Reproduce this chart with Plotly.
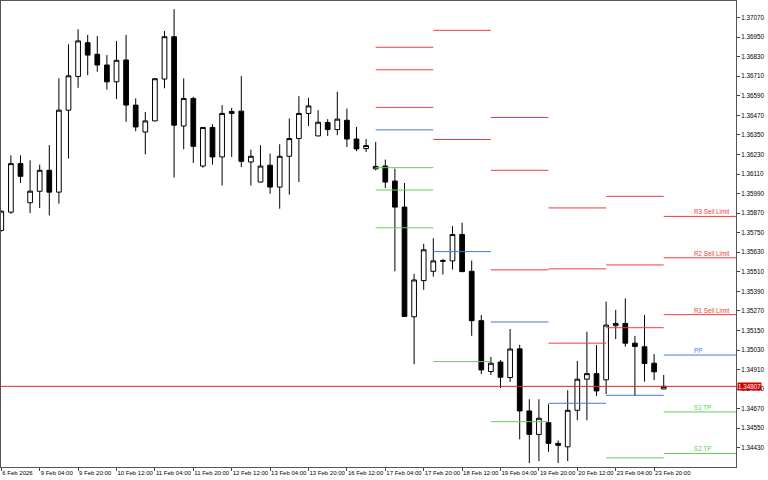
import plotly.graph_objects as go

# ---------------- data ----------------
bar_index = list(range(70))
opens = [1.35764, 1.35876, 1.36174, 1.35934, 1.36004, 1.36133, 1.35999, 1.36502, 1.36709, 1.36916,
         1.36845, 1.36779, 1.36676, 1.36810, 1.36533, 1.36368, 1.36436, 1.36693, 1.36953, 1.36405,
         1.36574, 1.36159, 1.36396, 1.36215, 1.36482, 1.36496, 1.36184, 1.36061, 1.36164, 1.36030,
         1.36219, 1.36328, 1.36482, 1.36344, 1.36426, 1.36383, 1.36440, 1.36325, 1.36266, 1.36142,
         1.36159, 1.36067, 1.35907, 1.35234, 1.35456, 1.35513, 1.35579, 1.35577, 1.35739, 1.35513,
         1.35210, 1.34898, 1.34956, 1.34861, 1.35037, 1.34656, 1.34512, 1.34584, 1.34457, 1.34436,
         1.34660, 1.34851, 1.34885, 1.34847, 1.35179, 1.35193, 1.35072, 1.35050, 1.34949, 1.34791]
highs = [1.35887, 1.36225, 1.36225, 1.36194, 1.36168, 1.36287, 1.36697, 1.36906, 1.36999, 1.36964,
         1.36957, 1.36840, 1.36927, 1.36964, 1.36574, 1.36491, 1.36699, 1.36988, 1.37122, 1.36697,
         1.36584, 1.36397, 1.36416, 1.36533, 1.36516, 1.36711, 1.36260, 1.36287, 1.36236, 1.36293,
         1.36451, 1.36588, 1.36578, 1.36502, 1.36447, 1.36615, 1.36512, 1.36399, 1.36325, 1.36307,
         1.36199, 1.36143, 1.36055, 1.35497, 1.35682, 1.35716, 1.35589, 1.35790, 1.35811, 1.35579,
         1.35245, 1.34988, 1.34968, 1.35159, 1.35062, 1.34728, 1.34728, 1.34697, 1.34475, 1.34783,
         1.34963, 1.35142, 1.35060, 1.35327, 1.35276, 1.35347, 1.35117, 1.35245, 1.35005, 1.34877]
lows = [1.35757, 1.35866, 1.36055, 1.35870, 1.35901, 1.35856, 1.35928, 1.36205, 1.36639, 1.36717,
        1.36738, 1.36629, 1.36570, 1.36430, 1.36373, 1.36231, 1.36434, 1.36636, 1.36088, 1.36262,
        1.36178, 1.36149, 1.36168, 1.36040, 1.36215, 1.36153, 1.36040, 1.36059, 1.35989, 1.35897,
        1.35983, 1.36061, 1.36405, 1.36342, 1.36344, 1.36348, 1.36276, 1.36250, 1.36245, 1.36133,
        1.36024, 1.35513, 1.35234, 1.34943, 1.35399, 1.35480, 1.35493, 1.35524, 1.35511, 1.35117,
        1.34882, 1.34877, 1.34796, 1.34834, 1.34482, 1.34336, 1.34348, 1.34405, 1.34336, 1.34348,
        1.34599, 1.34599, 1.34748, 1.34759, 1.35097, 1.35050, 1.34748, 1.34836, 1.34845, 1.34790]
closes = [1.35882, 1.36174, 1.36096, 1.36005, 1.36133, 1.35999, 1.36502, 1.36713, 1.36927, 1.36840,
          1.36779, 1.36676, 1.36808, 1.36533, 1.36399, 1.36436, 1.36695, 1.36953, 1.36410, 1.36574,
          1.36280, 1.36396, 1.36215, 1.36482, 1.36494, 1.36188, 1.36219, 1.36159, 1.36030, 1.36219,
          1.36328, 1.36482, 1.36528, 1.36428, 1.36383, 1.36447, 1.36325, 1.36264, 1.36285, 1.36157,
          1.36061, 1.35907, 1.35236, 1.35460, 1.35645, 1.35577, 1.35575, 1.35739, 1.35511, 1.35210,
          1.34908, 1.34949, 1.34863, 1.35036, 1.34656, 1.34512, 1.34611, 1.34457, 1.34445, 1.34660,
          1.34851, 1.34885, 1.34779, 1.35183, 1.35193, 1.35072, 1.35052, 1.34947, 1.34896, 1.34807]

tick_bars = [0, 4, 8, 12, 16, 20, 24, 28, 32, 36, 40, 44, 48, 52, 56, 60, 64, 68]
tick_labels = ["6 Feb 2026", "9 Feb 04:00", "9 Feb 20:00", "10 Feb 12:00", "11 Feb 04:00",
               "11 Feb 20:00", "12 Feb 12:00", "13 Feb 04:00", "13 Feb 20:00", "16 Feb 12:00",
               "17 Feb 04:00", "17 Feb 20:00", "18 Feb 12:00", "19 Feb 04:00", "19 Feb 20:00",
               "20 Feb 12:00", "23 Feb 04:00", "23 Feb 20:00"]
price_ticks = [1.34430, 1.34550, 1.34670, 1.34790, 1.34910, 1.35030, 1.35150, 1.35270, 1.35390,
               1.35510, 1.35630, 1.35750, 1.35870, 1.35990, 1.36110, 1.36230, 1.36350, 1.36470,
               1.36590, 1.36710, 1.36830, 1.36950, 1.37070]

# daily pivot levels (first bar of each day)
pivot_start_bar = [39, 45, 51, 57, 63, 69]
pivot_R3 = [1.36888, None, 1.36457, 1.35902, 1.35973, 1.35850]
pivot_R2 = [1.36750, 1.36992, 1.36133, 1.35528, 1.35552, 1.35596]
pivot_R1 = [1.36519, 1.36322, 1.35522, 1.35072, 1.35167, 1.35247]
pivot_PP = [1.36381, 1.35634, 1.35202, 1.34703, 1.34752, 1.34999]
pivot_S1 = [1.36149, 1.34959, 1.34590, None, 1.34368, 1.34650]
pivot_S2 = [1.36012, None, None, None, None, 1.34395]
pivot_S3 = [1.35780, None, None, None, None, None]
level_labels = ["R3 Sell Limit", "R2 Sell Limit", "R1 Sell Limit", "PP", "S1 TP", "S2 TP"]
current_price = 1.34807

# ---------------- style ----------------
X_MIN, X_MAX = -0.03, 76.53
Y_MIN, Y_MAX = 1.34312, 1.37172
RED = "rgb(240,60,60)"
BLUE = "rgb(70,120,225)"
GREEN = "rgb(100,205,90)"
FONT = "Liberation Sans, Arial, sans-serif"
FS = 6.3

fig = go.Figure()

fig.add_trace(go.Candlestick(
    x=bar_index, open=opens, high=highs, low=lows, close=closes,
    increasing=dict(line=dict(color="black", width=1), fillcolor="white"),
    decreasing=dict(line=dict(color="black", width=1), fillcolor="black"),
    whiskerwidth=0, showlegend=False, hoverinfo="skip"))

def segments(levels):
    xs, ys = [], []
    for k, lv in enumerate(levels):
        if lv is None:
            continue
        x0 = pivot_start_bar[k]
        x1 = pivot_start_bar[k + 1] if k + 1 < len(pivot_start_bar) else X_MAX
        xs += [x0, x1, None]
        ys += [lv, lv, None]
    return xs, ys

for levels, col in [(pivot_R3, RED), (pivot_R2, RED), (pivot_R1, RED), (pivot_PP, BLUE),
                    (pivot_S1, GREEN), (pivot_S2, GREEN), (pivot_S3, GREEN)]:
    xs, ys = segments(levels)
    fig.add_trace(go.Scatter(x=xs, y=ys, mode="lines", line=dict(color=col, width=1),
                             showlegend=False, hoverinfo="skip"))

# current price line
fig.add_trace(go.Scatter(x=[X_MIN, X_MAX], y=[current_price, current_price], mode="lines",
                         line=dict(color="rgb(225,40,40)", width=1), showlegend=False, hoverinfo="skip"))

# labels on the last day's levels
last_levels = [pivot_R3[-1], pivot_R2[-1], pivot_R1[-1], pivot_PP[-1], pivot_S1[-1], pivot_S2[-1]]
label_cols = [RED, RED, RED, BLUE, GREEN, GREEN]
for txt, lv, col in zip(level_labels, last_levels, label_cols):
    fig.add_annotation(x=71.95, y=lv, text=txt, showarrow=False, xanchor="left", yanchor="bottom",
                       yshift=-1, font=dict(family=FONT, size=FS, color=col))

fig.add_annotation(xref="paper", x=1, y=current_price, text="1.34807", showarrow=False,
                   xanchor="left", yanchor="middle", xshift=1, bgcolor="rgb(210,0,0)",
                   borderpad=0, font=dict(family=FONT, size=FS, color="white"))

fig.update_layout(
    width=768, height=480,
    margin=dict(l=1, r=32, t=1, b=13, autoexpand=False),
    paper_bgcolor="white", plot_bgcolor="white",
    font=dict(family=FONT, size=FS, color="black"),
    showlegend=False,
    xaxis=dict(range=[X_MIN, X_MAX], tickvals=tick_bars, ticktext=tick_labels, tickangle=0,
               ticks="outside", ticklen=3, tickcolor="#444", showgrid=False, zeroline=False,
               showline=True, linecolor="#555", linewidth=1, mirror=True, automargin=False,
               ticklabelposition="outside right", rangeslider=dict(visible=False),
               tickfont=dict(family=FONT, size=6.0, color="black"), fixedrange=True),
    yaxis=dict(range=[Y_MIN, Y_MAX], side="right", tickvals=price_ticks, tickformat=".5f",
               ticks="outside", ticklen=3, tickcolor="#444", showgrid=False, zeroline=False,
               showline=True, linecolor="#555", linewidth=1, mirror=True, automargin=False,
               tickfont=dict(family=FONT, size=FS, color="black"), fixedrange=True),
)

fig.write_html("out.html", config={"displayModeBar": False},
               post_script="document.body.style.margin='0px';document.body.style.padding='0px';")
